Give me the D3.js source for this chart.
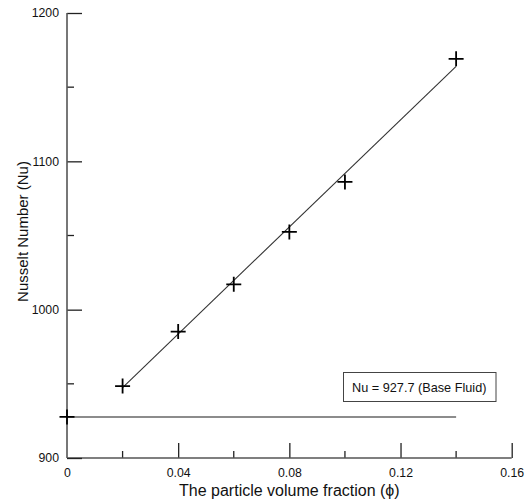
<!DOCTYPE html>
<html>
<head>
<meta charset="utf-8">
<script src="https://cdn.jsdelivr.net/npm/d3@7"></script>
<style>
  html, body { margin: 0; padding: 0; background: #fff; }
  svg { display: block; font-family: Arial, "Liberation Sans", sans-serif; }
</style>
</head>
<body>
<svg id="chart" width="529" height="502"></svg>
<script>
// Nusselt number against nanoparticle volume fraction
const phi = [0.02, 0.04, 0.06, 0.08, 0.10, 0.14];
const nusselt = [948.5, 985.2, 1017.1, 1052.4, 1086.1, 1169.1];

// Straight-line fit through the nanofluid points (end values)
const fitPhi = [0.02, 0.14];
const fitNu = [947.5, 1164];

// Base fluid reference
const basePhi = [0, 0.14];
const baseNu = 927.7;
const baseLabel = "Nu = 927.7 (Base Fluid)";

// Axis ticks
const xMajor = [0, 0.04, 0.08, 0.12, 0.16];
const xMinor = [0.02, 0.06, 0.10, 0.14];
const xTickLabels = ["0", "0.04", "0.08", "0.12", "0.16"];
const yMajor = [900, 1000, 1100, 1200];
const yMinor = [950, 1050, 1150];
const yTickLabels = ["900", "1000", "1100", "1200"];

const svg = d3.select("#chart");
const x = d3.scaleLinear().domain([0, 0.16]).range([67, 511.7]);
const y = d3.scaleLinear().domain([900, 1200]).range([458, 13]);

const axisColor = "#555";

// X axis with inward ticks
const gx = svg.append("g").attr("transform", `translate(0,${y(900)})`);
gx.call(d3.axisBottom(x).tickValues(xMajor).tickSize(-15).tickFormat((d, i) => xTickLabels[i]).tickPadding(0))
  .call(g => g.select(".domain").remove());
gx.selectAll(".tick line").attr("stroke", "#222").attr("stroke-width", 1.3);
gx.selectAll(".tick text").attr("font-size", 12.3).attr("fill", "#111").attr("dy", null).attr("y", 19)
  .attr("font-family", "Arial, 'Liberation Sans', sans-serif");
gx.selectAll(".tick").filter(d => d === 0).select("line").remove();
gx.append("g").selectAll("line").data(xMinor).join("line")
  .attr("x1", d => x(d)).attr("x2", d => x(d)).attr("y1", 0).attr("y2", -7)
  .attr("stroke", "#222").attr("stroke-width", 1.3);
gx.append("line").attr("x1", x(0)).attr("x2", x(0.16)).attr("y1", 0).attr("y2", 0)
  .attr("stroke", axisColor).attr("stroke-width", 1.6);

// Y axis with inward ticks
const gy = svg.append("g").attr("transform", `translate(${x(0)},0)`);
gy.call(d3.axisLeft(y).tickValues(yMajor).tickSize(-15).tickFormat((d, i) => yTickLabels[i]).tickPadding(8))
  .call(g => g.select(".domain").remove());
gy.selectAll(".tick line").attr("stroke", "#222").attr("stroke-width", 1.3);
gy.selectAll(".tick text").attr("font-size", 12.3).attr("fill", "#111")
  .attr("font-family", "Arial, 'Liberation Sans', sans-serif");
gy.append("g").selectAll("line").data(yMinor).join("line")
  .attr("x1", 0).attr("x2", 7).attr("y1", d => y(d)).attr("y2", d => y(d))
  .attr("stroke", "#222").attr("stroke-width", 1.3);
gy.append("line").attr("x1", 0).attr("x2", 0).attr("y1", y(900)).attr("y2", y(1200))
  .attr("stroke", axisColor).attr("stroke-width", 1.6);

// Axis titles
svg.append("text")
  .attr("x", (x(0) + x(0.16)) / 2).attr("y", 496)
  .attr("text-anchor", "middle").attr("font-size", 16).attr("fill", "#111")
  .text("The particle volume fraction (\u03D5)");
svg.append("text")
  .attr("transform", `translate(28,${(y(900) + y(1200)) / 2 - 4}) rotate(-90)`)
  .attr("text-anchor", "middle").attr("font-size", 15).attr("fill", "#111")
  .text("Nusselt Number (Nu)");

// Base fluid line
svg.append("line")
  .attr("x1", x(basePhi[0])).attr("x2", x(basePhi[1]))
  .attr("y1", y(baseNu)).attr("y2", y(baseNu))
  .attr("stroke", "#666").attr("stroke-width", 1.5);

// Fit line
svg.append("path")
  .datum(fitPhi.map((p, i) => [p, fitNu[i]]))
  .attr("fill", "none").attr("stroke", "#333").attr("stroke-width", 1.1)
  .attr("d", d3.line().x(d => x(d[0])).y(d => y(d[1])));

// Cross markers
const pts = [[0, baseNu]].concat(phi.map((p, i) => [p, nusselt[i]]));
const half = 7.5;
const marks = svg.append("g").attr("stroke", "#000").attr("stroke-width", 1.8);
marks.selectAll("path").data(pts).join("path")
  .attr("d", d => {
    const cx = x(d[0]), cy = y(d[1]);
    return `M${cx - half},${cy}H${cx + half}M${cx},${cy - half}V${cy + half}`;
  });

// Legend box for the base fluid value
const lg = svg.append("g");
lg.append("rect").attr("x", 343.5).attr("y", 372.5).attr("width", 152.5).attr("height", 29)
  .attr("fill", "#fff").attr("stroke", "#444").attr("stroke-width", 1);
lg.append("text").attr("x", 343.5 + 152.5 / 2 - 0.5).attr("y", 391.5)
  .attr("text-anchor", "middle").attr("font-size", 12.7).attr("fill", "#111")
  .text(baseLabel);
</script>
</body>
</html>
